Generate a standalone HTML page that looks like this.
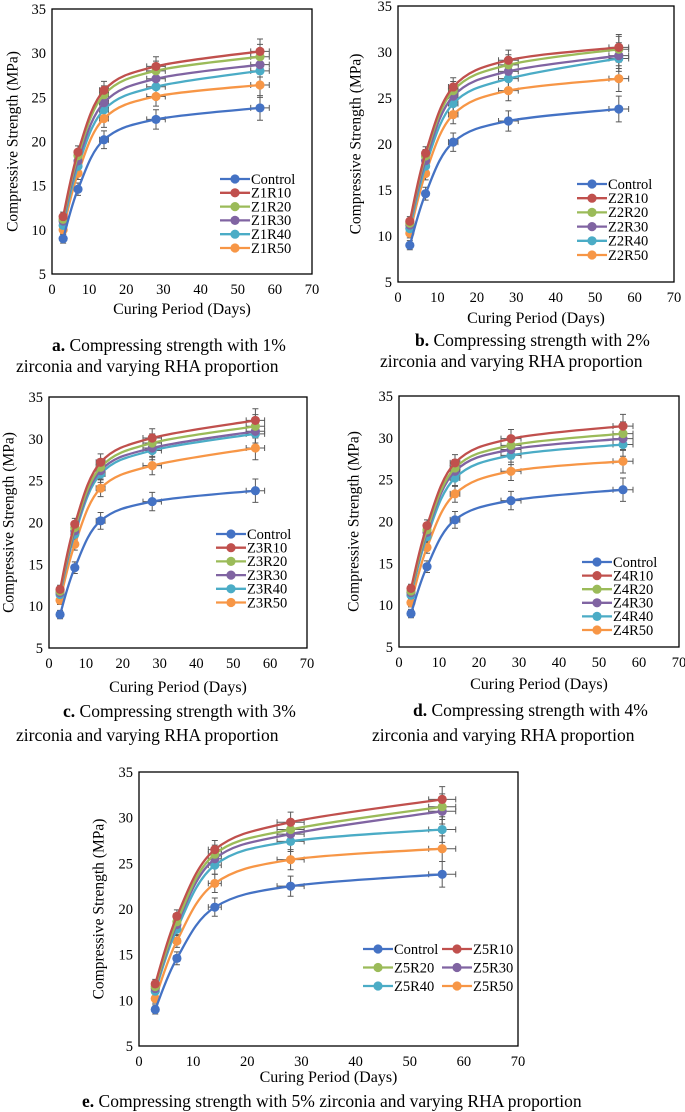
<!DOCTYPE html>
<html><head><meta charset="utf-8"><style>
html,body{margin:0;padding:0;background:#fff;}
svg{display:block;}
svg text{font-family:"Liberation Serif","Times New Roman",serif;}
</style></head><body>
<svg id="fig" width="685" height="1112" viewBox="0 0 685 1112" xmlns="http://www.w3.org/2000/svg" font-family="Liberation Serif, serif"></svg>
<script>
const days = [3, 7, 14, 28, 56];
const xTicks = [0, 10, 20, 30, 40, 50, 60, 70];
const yTicks = [5, 10, 15, 20, 25, 30, 35];
const seriesColors = ["#4472C4", "#C0504D", "#9BBB59", "#8064A2", "#4BACC6", "#F79646"];
const yErrors = [0.5, 0.7, 1.0, 1.1, 1.4];
const xErrors = [0, 0.6, 1.2, 2.5, 2.5];
const controlValues = [9, 14.6, 20.2, 22.5, 23.8];
const aR10 = [11.5, 18.8, 25.8, 28.5, 30.2];
const aR20 = [11.2, 18.4, 25.3, 28.0, 29.6];
const aR30 = [11.0, 17.8, 24.4, 27.1, 28.7];
const aR40 = [10.5, 17.2, 23.6, 26.2, 28.0];
const aR50 = [10.0, 16.4, 22.6, 25.1, 26.4];
const bR10 = [11.6, 19.0, 26.2, 29.1, 30.5];
const bR20 = [11.4, 18.7, 25.8, 28.6, 30.3];
const bR30 = [11.2, 18.2, 25.2, 27.9, 29.6];
const bR40 = [10.8, 17.6, 24.4, 27.1, 29.3];
const bR50 = [10.3, 16.8, 23.2, 25.8, 27.1];
const cR10 = [12.0, 19.8, 27.2, 30.1, 32.2];
const cR20 = [11.8, 19.4, 26.6, 29.5, 31.5];
const cR30 = [11.6, 19.0, 26.2, 28.9, 30.9];
const cR40 = [11.4, 18.6, 25.8, 28.6, 30.6];
const cR50 = [10.7, 17.4, 24.1, 26.8, 28.9];
const dR10 = [12.0, 19.5, 27.0, 29.9, 31.4];
const dR20 = [11.7, 19.0, 26.4, 29.1, 30.5];
const dR30 = [11.5, 18.7, 26.0, 28.6, 29.9];
const dR40 = [11.2, 18.2, 25.2, 27.9, 29.2];
const dR50 = [10.3, 16.9, 23.3, 26.0, 27.2];
const eR10 = [11.8, 19.2, 26.5, 29.5, 32.0];
const eR20 = [11.5, 18.6, 26.0, 28.7, 31.2];
const eR30 = [11.3, 18.3, 25.5, 28.2, 30.7];
const eR40 = [11.0, 17.8, 24.8, 27.4, 28.7];
const eR50 = [10.2, 16.5, 22.8, 25.4, 26.6];

const NS = "http://www.w3.org/2000/svg";
const fig = document.getElementById("fig");
const FONT = "Liberation Serif, Times New Roman, serif";
function mk(tag, attrs, parent) {
  const e = document.createElementNS(NS, tag);
  for (const k in attrs) e.setAttribute(k, attrs[k]);
  if (tag === "text") e.setAttribute("font-family", FONT);
  (parent || fig).appendChild(e);
  return e;
}

const charts = [
  {id:"a", pct:"1", series:[controlValues,aR10,aR20,aR30,aR40,aR50], L:52,T:9,R:312,B:274, ytx:14, xtitleY:314, cap:[[52,351,true],[16,372,false]], leg:{x:220,y:179,dy:13.8,cols:1}},
  {id:"b", pct:"2", series:[controlValues,bR10,bR20,bR30,bR40,bR50], L:398,T:6,R:674,B:282, ytx:357, xtitleY:323, cap:[[415,346,true],[380,367,false]], leg:{x:577,y:184,dy:14.2,cols:1}},
  {id:"c", pct:"3", series:[controlValues,cR10,cR20,cR30,cR40,cR50], L:49,T:397,R:307,B:648, ytx:10, xtitleY:692, cap:[[63,717,true],[16,741,false]], leg:{x:216,y:534,dy:13.7,cols:1}},
  {id:"d", pct:"4", series:[controlValues,dR10,dR20,dR30,dR40,dR50], L:399,T:396,R:679,B:647, ytx:355, xtitleY:689, cap:[[413,716,true],[372,741,false]], leg:{x:582,y:562,dy:13.6,cols:1}},
  {id:"e", pct:"5", series:[controlValues,eR10,eR20,eR30,eR40,eR50], L:139,T:772,R:518,B:1046, ytx:100, xtitleY:1082, cap:[[82,1107,true]], leg:{x:363,y:949,dy:18.5,cols:2,colDx:79}}
];

function smoothPath(pts) {
  let d = "M" + pts[0][0].toFixed(1) + "," + pts[0][1].toFixed(1);
  for (let i = 0; i < pts.length - 1; i++) {
    const p0 = pts[i - 1] || pts[i], p1 = pts[i], p2 = pts[i + 1], p3 = pts[i + 2] || pts[i + 1];
    const c1 = [p1[0] + (p2[0] - p0[0]) / 6, p1[1] + (p2[1] - p0[1]) / 6];
    const c2 = [p2[0] - (p3[0] - p1[0]) / 6, p2[1] - (p3[1] - p1[1]) / 6];
    d += " C" + c1.map(v=>v.toFixed(1)).join(",") + " " + c2.map(v=>v.toFixed(1)).join(",") + " " + p2[0].toFixed(1) + "," + p2[1].toFixed(1);
  }
  return d;
}

charts.forEach(c => {
  const g = mk("g", {});
  
  
  const xS = v => c.L + (v - 0) / 70 * (c.R - c.L);
  const yS = v => c.B - (v - 5) / 30 * (c.B - c.T);
  const frame = mk("rect", {x:c.L, y:c.T, width:c.R-c.L, height:c.B-c.T, fill:"none", stroke:"#000", "stroke-width":1.3}, g);
  
  
  yTicks.forEach(t => {
    const tx = mk("text", {x:c.L-6, y:yS(t)+5, "text-anchor":"end", "font-size":14.5}, g);
    tx.textContent = t;
    
    
  });
  xTicks.forEach(t => {
    const tx = mk("text", {x:xS(t), y:c.B+20, "text-anchor":"middle", "font-size":14.5}, g);
    tx.textContent = t;
    
    
  });
  const yt = mk("text", {x:c.ytx, y:(c.T+c.B)/2, "text-anchor":"middle", "font-size":15.5, transform:"rotate(-90 "+c.ytx+" "+((c.T+c.B)/2)+")", "dominant-baseline":"middle"}, g);
  yt.textContent = "Compressive Strength (MPa)";
  
  
  const xt = mk("text", {x:(c.L+c.R)/2, y:c.xtitleY, "text-anchor":"middle", "font-size":16}, g);
  xt.textContent = "Curing Period (Days)";
  
  

  c.series.forEach((vals, si) => {
    vals.forEach((v, i) => {
      const x = xS(days[i]), y = yS(v);
      const y1 = yS(v + yErrors[i]), y2 = yS(v - yErrors[i]);
      const eb = mk("path", {d:"M"+x+","+y1+"V"+y2+"M"+(x-3)+","+y1+"h6M"+(x-3)+","+y2+"h6", stroke:"#595959", "stroke-width":1, fill:"none"}, g);
      
      
      if (xErrors[i] > 0) {
        const x1 = xS(days[i] - xErrors[i]), x2 = xS(days[i] + xErrors[i]);
        const hb = mk("path", {d:"M"+x1+","+y+"H"+x2+"M"+x1+","+(y-3)+"v6M"+x2+","+(y-3)+"v6", stroke:"#595959", "stroke-width":1, fill:"none"}, g);
        
        
      }
    });
  });
  const order = [5,4,3,2,1,0];
  order.forEach(si => {
    const vals = c.series[si];
    const pts = vals.map((v, i) => [xS(days[i]), yS(v)]);
    const ln = mk("path", {d:smoothPath(pts), stroke:seriesColors[si], "stroke-width":2.3, fill:"none"}, g);
    
    
    pts.forEach(p => {
      const m = mk("circle", {cx:p[0], cy:p[1], r:4.6, fill:seriesColors[si]}, g);
      
      
    });
  });
  const names = ["Control", "Z"+c.pct+"R10", "Z"+c.pct+"R20", "Z"+c.pct+"R30", "Z"+c.pct+"R40", "Z"+c.pct+"R50"];
  names.forEach((nm, si) => {
    let lx, ly;
    if (c.leg.cols === 1) { lx = c.leg.x; ly = c.leg.y + si * c.leg.dy; }
    else { lx = c.leg.x + (si % 2) * c.leg.colDx; ly = c.leg.y + Math.floor(si / 2) * c.leg.dy; }
    const le = mk("g", {}, g);
    
    
    mk("line", {x1:lx, y1:ly, x2:lx+30, y2:ly, stroke:seriesColors[si], "stroke-width":2.3}, le);
    mk("circle", {cx:lx+15, cy:ly, r:4.6, fill:seriesColors[si]}, le);
    const t = mk("text", {x:lx+31, y:ly+4.8, "font-size":14.5}, le);
    t.textContent = nm;
  });
  c.cap.forEach((cl, k) => {
    const t = mk("text", {x:cl[0], y:cl[1], "font-size":17.5}, fig);
    
    
    if (cl[2]) {
      const b = mk("tspan", {"font-weight":"bold"}, t);
      b.textContent = c.id + ".";
      const r = mk("tspan", {}, t);
      r.textContent = c.id === "e" ? " Compressing strength with 5% zirconia and varying RHA proportion" : " Compressing strength with " + c.pct + "%";
    } else {
      t.textContent = "zirconia and varying RHA proportion";
    }
  });
});
</script>
</body></html>
